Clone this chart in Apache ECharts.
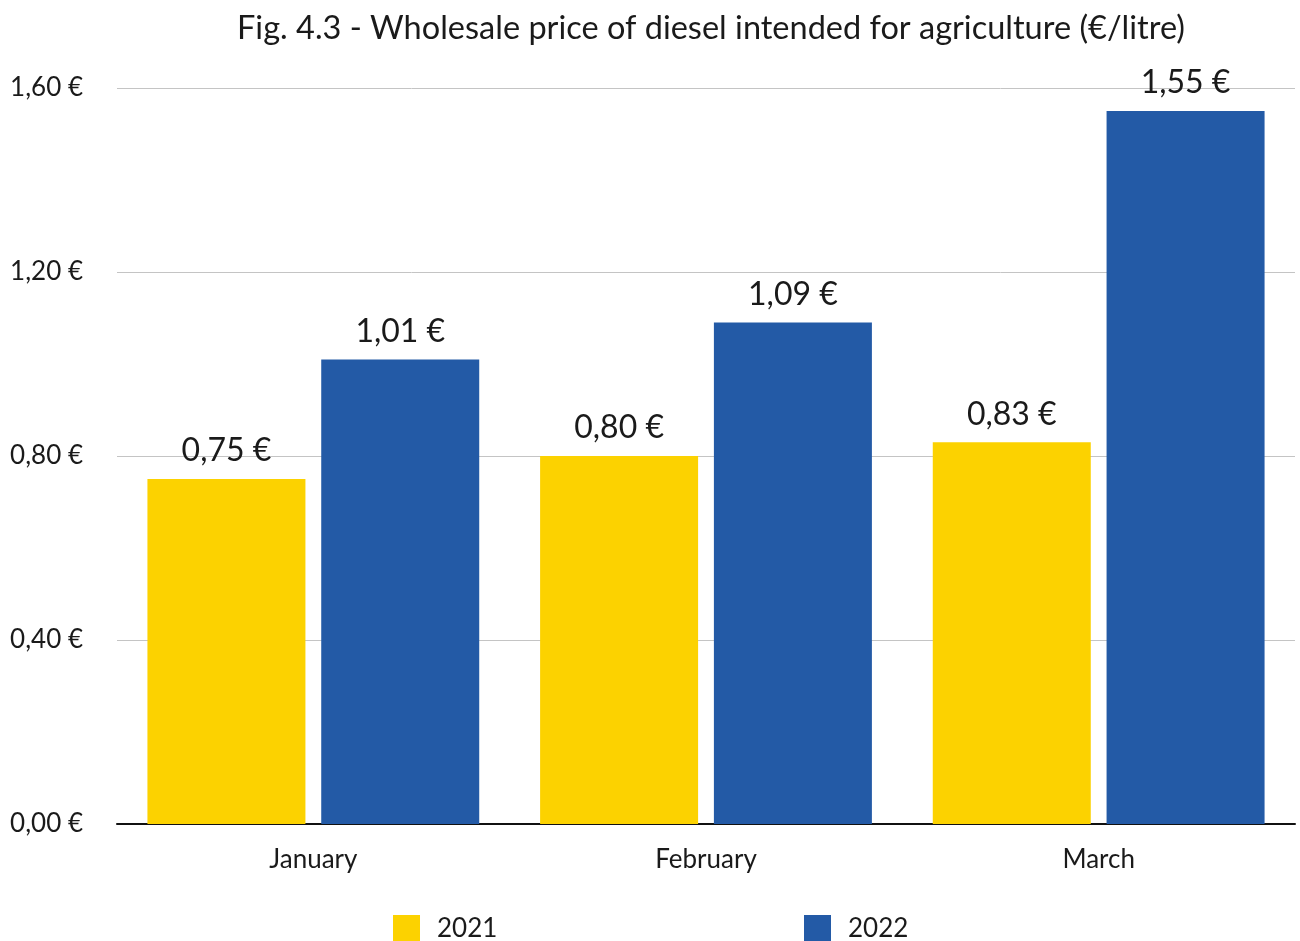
<!DOCTYPE html>
<html><head><meta charset="utf-8">
<script src="https://cdn.jsdelivr.net/npm/echarts@6/dist/echarts.min.js"></script>
<style>html,body{margin:0;padding:0;background:#fff}#c{width:1300px;height:941px}</style>
</head><body><div id="c"></div>
<script>
const categories = ['January', 'February', 'March'];
const series2021 = [0.75, 0.80, 0.83];
const series2022 = [1.01, 1.09, 1.55];
const seriesNames = ['2021', '2022'];
const titleText = 'Fig. 4.3 - Wholesale price of diesel intended for agriculture (€/litre)';

const fmt = v => v.toFixed(2).replace('.', ',') + ' €';
const FONT = 'Lato';
const chart = echarts.init(document.getElementById('c'));
const labelCfg = {show: true, position: 'top', distance: 12, fontFamily: FONT, fontSize: 32, color: '#1a1a1a', formatter: p => fmt(p.value)};
chart.setOption({
  animation: false,
  title: {text: titleText, left: 706, top: 7, textAlign: 'center', textStyle: {fontFamily: FONT, fontWeight: 'normal', fontSize: 32.5, color: '#1a1a1a'}},
  grid: {left: 117, right: 5, top: 88, bottom: 117, containLabel: false},
  legend: [
    {data: [seriesNames[0]], left: 388, top: 910, itemWidth: 27, itemHeight: 27, icon: 'rect', textStyle: {fontFamily: FONT, fontSize: 26, color: '#1a1a1a', padding: [2, 0, 0, 12]}},
    {data: [seriesNames[1]], left: 799, top: 910, itemWidth: 27, itemHeight: 27, icon: 'rect', textStyle: {fontFamily: FONT, fontSize: 26, color: '#1a1a1a', padding: [2, 0, 0, 12]}}
  ],
  xAxis: {type: 'category', data: categories, axisLine: {lineStyle: {color: '#111', width: 2}}, axisTick: {show: false},
    axisLabel: {fontFamily: FONT, fontSize: 26, color: '#1a1a1a', margin: 23}},
  yAxis: {type: 'value', min: 0, max: 1.6, interval: 0.4,
    axisLabel: {fontFamily: FONT, fontSize: 26, color: '#1a1a1a', margin: 34, formatter: v => fmt(v)},
    splitLine: {lineStyle: {color: '#c4c4c4', width: 1}}, axisLine: {show: false}, axisTick: {show: false}},
  series: [
    {name: seriesNames[0], type: 'bar', data: series2021, barWidth: 158, barGap: '10%', itemStyle: {color: '#FCD200'}, label: labelCfg},
    {name: seriesNames[1], type: 'bar', data: series2022, barWidth: 158, barGap: '10%', itemStyle: {color: '#235AA6'}, label: labelCfg}
  ]
});
</script></body></html>
